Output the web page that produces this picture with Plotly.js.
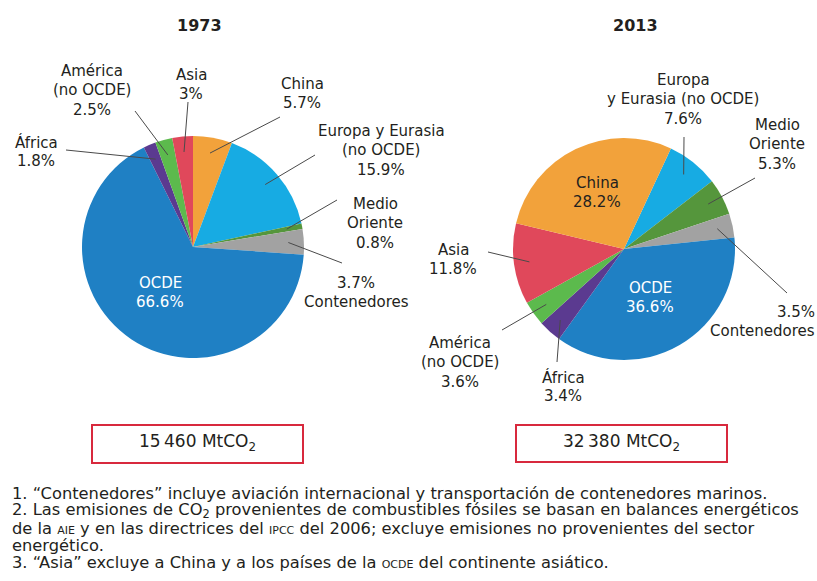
<!DOCTYPE html>
<html>
<head>
<meta charset="utf-8">
<script src="https://cdn.plot.ly/plotly-3.0.1.min.js"></script>
<style>html,body{margin:0;padding:0;background:#fff;}#chart{width:817px;height:581px;}</style>
</head>
<body>
<div id="chart"></div>
<script>
// ---------------- DATA ----------------
const years = ['1973', '2013'];
const totals = [15460, 32380];           // MtCO2

// 1973 (clockwise from 12 o'clock)
const categories1973 = ['China', 'Europa y Eurasia (no OCDE)', 'Medio Oriente', 'Contenedores', 'OCDE', 'África', 'América (no OCDE)', 'Asia'];
const values1973     = [5.7, 15.9, 0.8, 3.7, 66.6, 1.8, 2.5, 3];

// 2013 (clockwise, starting just right of 12 o'clock)
const categories2013 = ['Europa y Eurasia (no OCDE)', 'Medio Oriente', 'Contenedores', 'OCDE', 'África', 'América (no OCDE)', 'Asia', 'China'];
const values2013     = [7.6, 5.3, 3.5, 36.6, 3.4, 3.6, 11.8, 28.2];

const footnotes = [
  '1. “Contenedores” incluye aviación internacional y transportación de contenedores marinos.',
  '2. Las emisiones de CO<sub>2</sub> provenientes de combustibles fósiles se basan en balances energéticos',
  'de la <span style="font-size:11px">AIE</span> y en las directrices del <span style="font-size:11px">IPCC</span> del 2006; excluye emisiones no provenientes del sector',
  'energético.',
  '3. “Asia” excluye a China y a los países de la <span style="font-size:11px">OCDE</span> del continente asiático.'
];

// ---------------- STYLE / LAYOUT ----------------
const W = 817, H = 581;
const colorMap = {
  'OCDE': '#1f80c4',
  'Europa y Eurasia (no OCDE)': '#17abe3',
  'China': '#f2a23b',
  'Asia': '#e0485b',
  'América (no OCDE)': '#5cba4d',
  'África': '#5b3a90',
  'Medio Oriente': '#55963c',
  'Contenedores': '#a2a2a2'
};
const FONT = 'DejaVu Sans, Verdana, sans-serif';
const TXT = '#231f20';
const px = x => x / W, py = y => 1 - y / H;

const pies = [
  {cx: 193, cy: 247, r: 111, rotation: 0, cats: categories1973, vals: values1973, titleX: 199},
  {cx: 624, cy: 249, r: 111, rotation: 25, cats: categories2013, vals: values2013, titleX: 635}
];

// label layout: per category: center x, first-line y, lines ('%' = value), align, leader-line start, colour
const labelLayout = [
  {
    'China': {x: 302, y: 84, lines: ['China', '%'], from: [280, 117]},
    'Europa y Eurasia (no OCDE)': {x: 381, y: 131, lines: ['Europa y Eurasia', '(no OCDE)', '%'], from: [315, 155]},
    'Medio Oriente': {x: 375, y: 204, lines: ['Medio', 'Oriente', '%'], from: [337, 200]},
    'Contenedores': {x: 356, y: 283, lines: ['%', 'Contenedores'], from: [342, 263]},
    'OCDE': {x: 160, y: 283, lines: ['OCDE', '%'], color: '#ffffff'},
    'África': {x: 36, y: 142, lines: ['África', '%'], from: [66, 150]},
    'América (no OCDE)': {x: 92, y: 71, lines: ['América', '(no OCDE)', '%'], from: [135, 111]},
    'Asia': {x: 191, y: 75, lines: ['Asia', '%'], from: [188, 102]}
  },
  {
    'Europa y Eurasia (no OCDE)': {x: 683, y: 80, lines: ['Europa', 'y Eurasia (no OCDE)', '%'], from: [684, 137]},
    'Medio Oriente': {x: 777, y: 125, lines: ['Medio', 'Oriente', '%'], from: [755, 178]},
    'Contenedores': {x: 815, y: 312, lines: ['%', 'Contenedores'], anchor: 'right', from: [787, 293]},
    'OCDE': {x: 650, y: 288, lines: ['OCDE', '%'], color: '#ffffff'},
    'África': {x: 563, y: 377, lines: ['África', '%'], from: [557, 362]},
    'América (no OCDE)': {x: 460, y: 343, lines: ['América', '(no OCDE)', '%'], from: [502, 330]},
    'Asia': {x: 453, y: 250, lines: ['Asia', '%'], from: [488, 252]},
    'China': {x: 597, y: 183, lines: ['China', '%']}
  }
];
const LINE_H = 19.3;
const TIP_FRAC = 0.86;

const traces = [];
const annotations = [];
const shapes = [];

function textAnn(x, y, text, opts) {
  annotations.push(Object.assign({
    xref: 'paper', yref: 'paper', x: px(x), y: py(y), text: text, showarrow: false,
    xanchor: 'center', yanchor: 'middle', borderpad: 0, borderwidth: 0,
    font: {family: FONT, size: 15, color: TXT}
  }, opts || {}));
}

pies.forEach((p, k) => {
  traces.push({
    type: 'pie',
    labels: p.cats,
    values: p.vals,
    sort: false,
    direction: 'clockwise',
    rotation: p.rotation,
    marker: {colors: p.cats.map(c => colorMap[c]), line: {width: 0}},
    textinfo: 'none',
    hoverinfo: 'label+value',
    showlegend: false,
    domain: {x: [px(p.cx - p.r), px(p.cx + p.r)], y: [py(p.cy + p.r), py(p.cy - p.r)]}
  });

  // year title
  textAnn(p.titleX, 25, '<b>' + years[k] + '</b>', {font: {family: FONT, size: 16, color: TXT}});

  // slice labels + leader lines (tips computed from the data)
  const total = p.vals.reduce((a, b) => a + b, 0);
  let cum = 0;
  p.cats.forEach((c, i) => {
    const v = p.vals[i];
    const mid = (cum + v / 2) / total;
    cum += v;
    const ang = (p.rotation + mid * 360) * Math.PI / 180;
    const tip = [p.cx + TIP_FRAC * p.r * Math.sin(ang), p.cy - TIP_FRAC * p.r * Math.cos(ang)];
    const L = labelLayout[k][c];
    if (!L) return;
    const pct = String(v) + '%';
    L.lines.forEach((ln, j) => {
      textAnn(L.x, L.y + j * LINE_H, ln === '%' ? pct : ln, {
        xanchor: L.anchor || 'center',
        font: {family: FONT, size: 15, color: L.color || TXT}
      });
    });
    if (L.from) {
      shapes.push({type: 'line', xref: 'paper', yref: 'paper',
        x0: px(L.from[0]), y0: py(L.from[1]), x1: px(tip[0]), y1: py(tip[1]),
        line: {color: '#4a4a4a', width: 1}});
    }
  });
});

// total boxes
const boxes = [[92, 425, 303, 463, 197], [516, 425, 727, 462, 621]];
boxes.forEach((b, k) => {
  shapes.push({type: 'rect', xref: 'paper', yref: 'paper',
    x0: px(b[0]), y0: py(b[3]), x1: px(b[2]), y1: py(b[1]),
    line: {color: '#d8293d', width: 2}, fillcolor: 'rgba(0,0,0,0)'});
  const t = String(totals[k]);
  const txt = t.slice(0, t.length - 3) + '\u2009' + t.slice(-3) + ' MtCO<sub>2</sub>';
  textAnn(b[4], 443, txt, {font: {family: FONT, size: 17, color: TXT}});
});

// footnotes
footnotes.forEach((f, i) => {
  textAnn(12, 494 + i * 17, f, {xanchor: 'left', font: {family: FONT, size: 16.3, color: TXT}});
});

const layout = {
  width: W, height: H,
  margin: {l: 0, r: 0, t: 0, b: 0},
  paper_bgcolor: '#ffffff', plot_bgcolor: '#ffffff',
  annotations: annotations,
  shapes: shapes
};

Plotly.newPlot('chart', traces, layout, {displayModeBar: false, staticPlot: true});
</script>
</body>
</html>
